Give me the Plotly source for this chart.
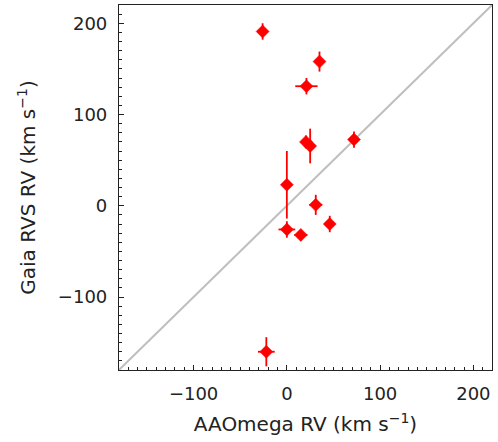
import plotly.graph_objects as go

# Data
aaomega_rv = [-26, 35, 21, 20.5, 25, 72, 0, 31, 0, 15, 46, -22]
aaomega_err = [0, 0, 12, 0, 0, 0, 0, 7, 9, 7, 0, 9]
gaia_rv = [191, 158, 131, 70, 65.5, 72.5, 23, 1, -26, -32, -20, -160]
gaia_err = [9, 11, 9, 7, 19, 9, 37, 11, 9, 6, 9, 16]

axis_range = [-180, 220]
tick_vals = [-100, 0, 100, 200]

fig = go.Figure()
fig.add_trace(go.Scatter(
    x=axis_range, y=axis_range, mode="lines",
    line=dict(color="#bfbfbf", width=2), hoverinfo="skip", showlegend=False))
fig.add_trace(go.Scatter(
    x=aaomega_rv, y=gaia_rv, mode="markers",
    marker=dict(symbol="diamond", size=10, color="#ff0000", line=dict(width=0.5, color="#ff0000")),
    error_x=dict(type="data", array=aaomega_err, color="#ff0000", thickness=1.8, width=0),
    error_y=dict(type="data", array=gaia_err, color="#ff0000", thickness=1.8, width=0),
    showlegend=False))

axis_common = dict(
    range=axis_range, tickvals=tick_vals, ticks="inside", ticklen=5, tickwidth=1,
    tickcolor="#222", showline=True, linecolor="#222", linewidth=1.2, mirror=True,
    showgrid=False, zeroline=False, ticklabelstandoff=7,
    minor=dict(dtick=10, ticks="inside", ticklen=2.5, tickcolor="#222", tickwidth=1),
    tickfont=dict(family="DejaVu Sans", size=18, color="#222"),
)

fig.update_layout(
    width=498, height=442,
    margin=dict(l=119, r=6, t=5, b=72),
    plot_bgcolor="white", paper_bgcolor="white",
    xaxis=dict(**axis_common,
               title=dict(text="AAOmega RV (km s<sup>−1</sup>)", standoff=14,
                          font=dict(family="DejaVu Sans", size=20, color="#222"))),
    yaxis=dict(**axis_common,
               title=dict(text="Gaia RVS RV (km s<sup>−1</sup>)", standoff=16,
                          font=dict(family="DejaVu Sans", size=20, color="#222"))),
)

fig.write_html("out.html")
